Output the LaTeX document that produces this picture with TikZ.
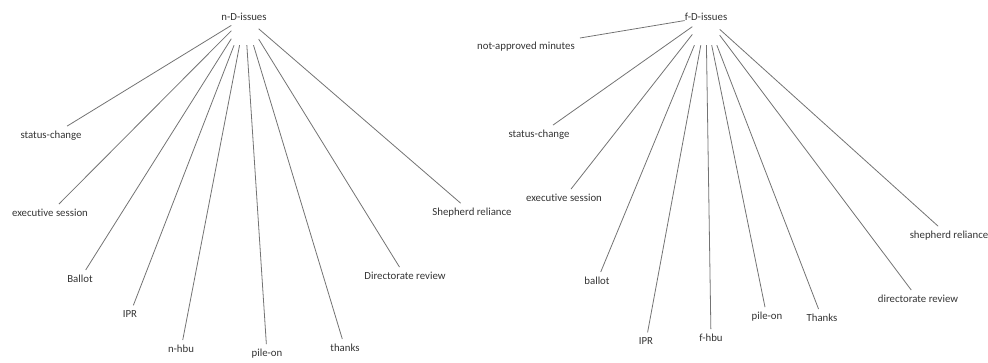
\documentclass[tikz,border=0pt]{standalone}
\usepackage{fontspec}
\setmainfont{Carlito}[Ligatures=NoCommon]
\begin{document}
\begin{tikzpicture}[x=1pt,y=-1pt,
  leaf/.style={inner sep=5pt,text=black!80,font=\fontsize{10.8}{13}\selectfont},
  rootlabel/.style={inner sep=0pt,text=black!80,font=\fontsize{10.8}{13}\selectfont},
  hub/.style={draw=none,inner sep=0pt,minimum width=27pt,minimum height=56pt},
  branch/.style={draw=black!55,line width=0.8pt}]
\useasboundingbox (0,0) rectangle (988,362);

% ---- n-D-issues tree ----
\node[rootlabel] (nroot) at (244,17) {n-D-issues};
\node[hub] (nhub) at (245,17) {};
\node[leaf] (nstatus) at (51,136) {status-change};
\node[leaf] (nexec) at (50,213) {executive session};
\node[leaf] (nballot) at (80,279) {Ballot};
\node[leaf] (nipr) at (130,314) {IPR};
\node[leaf] (nhbu) at (181,349) {n-hbu};
\node[leaf] (npile) at (267,354) {pile-on};
\node[leaf] (nthanks) at (345,348) {thanks};
\node[leaf] (ndir) at (405,276) {Directorate review};
\node[leaf] (nshep) at (472,213) {Shepherd reliance};
\foreach \t in {nstatus,nexec,nballot,nipr,nhbu,npile,nthanks,ndir,nshep}
  \draw[branch] (nhub) -- (\t);

% ---- f-D-issues tree ----
\node[rootlabel] (froot) at (706,17) {f-D-issues};
\node[hub] (fhub) at (706,17) {};
\node[leaf] (fminutes) at (526,47) {not-approved minutes};
\node[leaf] (fstatus) at (539,135) {status-change};
\node[leaf] (fexec) at (564,198) {executive session};
\node[leaf] (fballot) at (597,281) {ballot};
\node[leaf] (fipr) at (646,341) {IPR};
\node[leaf] (fhbu) at (711,338) {f-hbu};
\node[leaf] (fpile) at (767,317) {pile-on};
\node[leaf] (fthanks) at (822,318) {Thanks};
\node[leaf] (fdir) at (918,299) {directorate review};
\node[leaf] (fshep) at (949,236) {shepherd reliance};
\draw[branch] (froot) -- (fminutes);
\foreach \t in {fstatus,fexec,fballot,fipr,fhbu,fpile,fthanks,fdir,fshep}
  \draw[branch] (fhub) -- (\t);
\end{tikzpicture}
\end{document}
